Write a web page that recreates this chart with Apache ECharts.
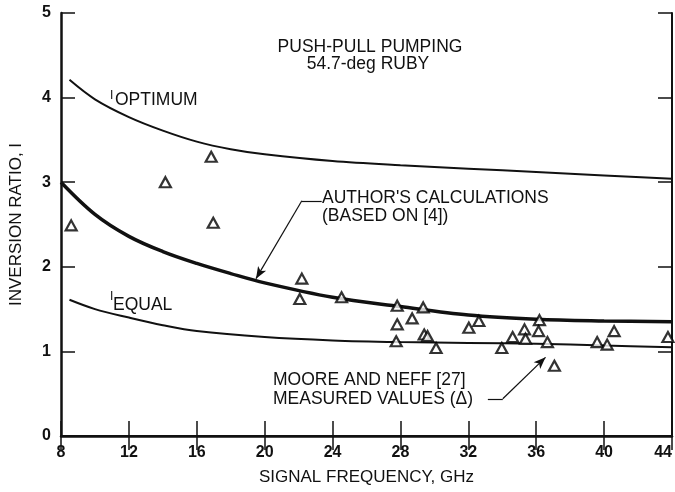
<!DOCTYPE html>
<html>
<head>
<meta charset="utf-8">
<script src="https://cdn.jsdelivr.net/npm/echarts@6/dist/echarts.min.js"></script>
<style>
html, body { margin: 0; padding: 0; background: #fff; }
#main { width: 675px; height: 492px; }
</style>
</head>
<body>
<div id="main"></div>
<script>
// curves: [signal frequency GHz, inversion ratio I]
var optimumCurve = [[8.5, 4.21], [10, 3.98], [12, 3.77], [14, 3.61], [16, 3.48], [18, 3.39], [20, 3.33],
    [24, 3.25], [28, 3.20], [32, 3.16], [36, 3.12], [40, 3.08], [44, 3.04]];
var authorCurve = [[8, 3.0], [10, 2.62], [12, 2.36], [14, 2.18], [16, 2.04], [18, 1.92], [20, 1.81],
    [24, 1.64], [28, 1.53], [32, 1.43], [36, 1.38], [40, 1.36], [44, 1.35]];
var equalCurve = [[8.5, 1.61], [10, 1.50], [12, 1.40], [14, 1.31], [16, 1.24], [20, 1.17], [24, 1.13],
    [28, 1.11], [32, 1.10], [36, 1.09], [40, 1.07], [44, 1.05]];

// Moore and Neff measured values (triangles)
var measured = [[8.6, 2.49], [14.15, 3.00], [16.85, 3.30], [16.97, 2.52], [22.19, 1.86], [22.07, 1.62],
    [24.53, 1.64], [27.81, 1.54], [29.34, 1.52], [28.69, 1.39], [27.81, 1.32], [29.4, 1.20],
    [29.6, 1.18], [27.75, 1.12], [30.1, 1.04], [32.62, 1.36], [32.03, 1.28], [36.19, 1.37],
    [35.31, 1.26], [36.14, 1.24], [34.61, 1.17], [35.37, 1.15], [33.97, 1.04], [36.66, 1.11],
    [39.59, 1.11], [40.18, 1.08], [40.59, 1.24], [37.07, 0.83], [43.76, 1.17]];

// leader lines (data coords): elbow -> arrow tip
var authorLeader = [[23.36, 2.78], [22.19, 2.78], [19.49, 1.86]];
var mooreLeader = [[33.15, 0.44], [34.03, 0.44], [36.55, 0.93]];

var FONT = 'Liberation Sans';

var chart = echarts.init(document.getElementById('main'));

function leader(pts) {
    return [
        [{ coord: pts[0], symbol: 'none' }, { coord: pts[1], symbol: 'none' }],
        [{ coord: pts[1], symbol: 'none' }, { coord: pts[2], symbol: 'arrow' }]
    ];
}

function note(text, x, y, size, align) {
    return {
        type: 'text', x: x, y: y,
        style: {
            text: text, fill: '#111', font: size + 'px "' + FONT + '"',
            textAlign: align || 'left', textVerticalAlign: 'middle'
        }
    };
}

var mirror = {
    axisLine: { show: true, lineStyle: { color: '#111', width: 2 } },
    axisTick: { show: true, inside: true, length: 14, lineStyle: { color: '#111', width: 1.5 } },
    axisLabel: { show: false },
    splitLine: { show: false }
};

var curveStyle = { type: 'line', smooth: 0.35, showSymbol: false };

var option = {
    animation: false,
    backgroundColor: '#fff',
    grid: { left: 58, right: 3, top: 13, bottom: 56 },
    xAxis: [{
        type: 'value', min: 8, max: 44, interval: 4,
        name: 'SIGNAL FREQUENCY, GHz', nameLocation: 'middle', nameGap: 33,
        nameTextStyle: { fontFamily: FONT, fontSize: 17, color: '#111' },
        axisLine: { show: true, lineStyle: { color: '#111', width: 2.5 } },
        axisTick: { show: true, inside: true, length: 15, lineStyle: { color: '#111', width: 1.5 } },
        axisLabel: { fontFamily: FONT, fontSize: 16, fontWeight: 'bold', color: '#111', margin: 9, alignMaxLabel: 'right' },
        splitLine: { show: false }
    }, Object.assign({ type: 'value', min: 8, max: 44, interval: 4, position: 'top' }, mirror)],
    yAxis: [{
        type: 'value', min: 0, max: 5, interval: 1,
        name: 'INVERSION RATIO, I', nameLocation: 'middle', nameGap: 36,
        nameTextStyle: { fontFamily: FONT, fontSize: 17, color: '#111' },
        axisLine: { show: true, lineStyle: { color: '#111', width: 2.5 } },
        axisTick: { show: true, inside: true, length: 14, lineStyle: { color: '#111', width: 1.5 } },
        axisLabel: { fontFamily: FONT, fontSize: 16, fontWeight: 'bold', color: '#111', margin: 10 },
        splitLine: { show: false }
    }, Object.assign({ type: 'value', min: 0, max: 5, interval: 1, position: 'right' }, mirror)],
    series: [
        Object.assign({
            name: 'optimum', data: optimumCurve,
            lineStyle: { color: '#111', width: 2 }
        }, curveStyle),
        Object.assign({
            name: 'author', data: authorCurve,
            lineStyle: { color: '#111', width: 3.5 },
            markLine: {
                silent: true, symbolSize: [7, 12], label: { show: false },
                lineStyle: { color: '#111', width: 1.2, type: 'solid' },
                data: leader(authorLeader).concat(leader(mooreLeader))
            }
        }, curveStyle),
        Object.assign({
            name: 'equal', data: equalCurve,
            lineStyle: { color: '#111', width: 2 }
        }, curveStyle),
        {
            name: 'measured', type: 'scatter', data: measured, symbol: 'triangle', symbolSize: [11, 10],
            itemStyle: { color: '#fff', borderColor: '#000', borderWidth: 2.2 }, z: 5
        }
    ],
    graphic: [
        note('PUSH-PULL PUMPING', 370, 47, 17.5, 'center'),
        note('54.7-deg RUBY', 368, 64, 17.5, 'center'),
        note('I', 110, 96, 12),
        note('OPTIMUM', 115, 100, 17.5),
        note('I', 110, 297, 12),
        note('EQUAL', 113, 305, 17.5),
        note("AUTHOR'S CALCULATIONS", 322, 198, 17.5),
        note('(BASED ON [4])', 322, 216, 17.5),
        note('MOORE AND NEFF [27]', 273, 380, 17.5),
        note('MEASURED VALUES (\u0394)', 273, 399, 17.5)
    ]
};

chart.setOption(option);
</script>
</body>
</html>
